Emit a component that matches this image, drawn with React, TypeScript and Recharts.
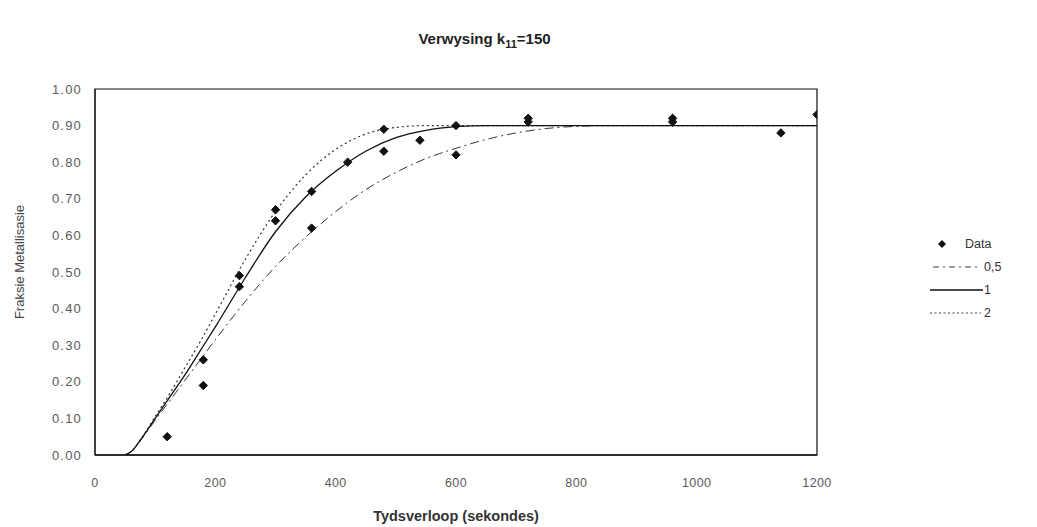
import React from "react";
import {
  ComposedChart,
  Line,
  Scatter,
  XAxis,
  YAxis,
  ReferenceArea,
} from "recharts";

// Measured data points (time in seconds, fraction metallised)
const dataT = [120, 180, 180, 240, 240, 300, 300, 360, 360, 420, 480, 480, 540, 600, 600, 720, 720, 960, 960, 1140, 1200];
const dataV = [0.05, 0.19, 0.26, 0.46, 0.49, 0.67, 0.64, 0.72, 0.62, 0.8, 0.89, 0.83, 0.86, 0.9, 0.82, 0.91, 0.92, 0.92, 0.91, 0.88, 0.93];

// Model curves
const curveT = [50, 62, 75, 100, 125, 150, 175, 200, 250, 300, 350, 400, 450, 500, 550, 600, 650, 700, 750, 800, 850, 900, 1200];
const curveHalf = [0, 0.012, 0.038, 0.095, 0.15, 0.205, 0.26, 0.315, 0.42, 0.515, 0.595, 0.665, 0.725, 0.772, 0.81, 0.838, 0.862, 0.88, 0.892, 0.898, 0.9, 0.9, 0.9];
const curveOne = [0, 0.012, 0.04, 0.1, 0.16, 0.22, 0.285, 0.35, 0.485, 0.61, 0.705, 0.775, 0.83, 0.867, 0.887, 0.897, 0.9, 0.9, 0.9, 0.9, 0.9, 0.9, 0.9];
const curveTwo = [0, 0.012, 0.04, 0.105, 0.17, 0.24, 0.31, 0.385, 0.535, 0.665, 0.765, 0.835, 0.877, 0.895, 0.9, 0.9, 0.9, 0.9, 0.9, 0.9, 0.9, 0.9, 0.9];

const xTicks = [0, 200, 400, 600, 800, 1000, 1200];
const yTicks = [0, 0.1, 0.2, 0.3, 0.4, 0.5, 0.6, 0.7, 0.8, 0.9, 1.0];

const titleText = "Verwysing k";
const titleSub = "11";
const titleRest = "=150";
const xLabel = "Tydsverloop (sekondes)";
const yLabel = "Fraksie Metallisasie";
const legendNames = ["Data", "0,5", "1", "2"];

const scatterData = dataT.map((t, i) => ({ t, v: dataV[i] }));
const mk = (vals: number[]) => curveT.map((t, i) => ({ t, v: vals[i] }));
const halfData = mk(curveHalf);
const oneData = mk(curveOne);
const twoData = mk(curveTwo);

const FONT = "'Liberation Sans', Arial, sans-serif";
const TICK_COLOR = "#5a5a5a";

const Diamond = (props: any) => {
  const { cx, cy } = props;
  if (cx == null || cy == null) return null;
  const r = 4.2;
  return (
    <path
      d={`M${cx},${cy - r} L${cx + r},${cy} L${cx},${cy + r} L${cx - r},${cy} Z`}
      fill="#111"
      stroke="#111"
    />
  );
};

const LegendBox = () => {
  const rowStyle: React.CSSProperties = {
    display: "flex",
    alignItems: "center",
    height: 23,
    fontFamily: FONT,
    fontSize: 12.5,
    color: "#333",
  };
  const kinds = ["data", "half", "one", "two"];
  return (
    <div style={{ position: "absolute", left: 925, top: 232 }}>
      {kinds.map((k, i) => (
        <div key={k} style={rowStyle}>
          {k === "data" ? (
            <svg width={32} height={12} style={{ display: "block" }}>
              <path d="M17,2 L21,6 L17,10 L13,6 Z" fill="#111" />
            </svg>
          ) : (
            <svg width={58} height={12} style={{ display: "block" }}>
              {k === "half" && (
                <line x1={8} y1={6} x2={56} y2={6} stroke="#444" strokeWidth={1} strokeDasharray="6 4 2 4" />
              )}
              {k === "one" && <line x1={5} y1={6} x2={58} y2={6} stroke="#111" strokeWidth={1.3} />}
              {k === "two" && (
                <line x1={5} y1={6} x2={56} y2={6} stroke="#444" strokeWidth={1.2} strokeDasharray="2 2.5" />
              )}
            </svg>
          )}
          <span style={{ marginLeft: k === "data" ? 8 : 1 }}>{legendNames[i]}</span>
        </div>
      ))}
    </div>
  );
};

export default function App() {
  return (
    <div style={{ position: "absolute", left: 0, top: 0, width: 1037, height: 527, background: "#fff" }}>
      <ComposedChart
        width={1037}
        height={527}
        margin={{ top: 89, right: 220, bottom: 42, left: 35 }}
      >
        <XAxis
          type="number"
          dataKey="t"
          domain={[0, 1200]}
          ticks={xTicks}
          tickLine={false}
          axisLine={{ stroke: "#111", strokeWidth: 1.5 }}
          tick={{ fill: TICK_COLOR, fontSize: 12.5, fontFamily: FONT, letterSpacing: 0.4 }}
          tickMargin={17}
          height={30}
          allowDataOverflow
        />
        <YAxis
          type="number"
          dataKey="v"
          domain={[0, 1]}
          ticks={yTicks}
          tickLine={false}
          axisLine={{ stroke: "#111", strokeWidth: 1 }}
          tick={{ fill: TICK_COLOR, fontSize: 13, fontFamily: FONT, letterSpacing: 1.2 }}
          tickFormatter={(v: number) => v.toFixed(2)}
          tickMargin={7}
          width={60}
          allowDataOverflow
        />
        <ReferenceArea x1={0} x2={1200} y1={0} y2={1} fill="none" stroke="#111" strokeWidth={1.2} />
        <Line
          data={halfData}
          dataKey="v"
          type="monotone"
          stroke="#333"
          strokeWidth={1}
          strokeDasharray="9 4 2 4"
          dot={false}
          isAnimationActive={false}
          name="0,5"
        />
        <Line
          data={twoData}
          dataKey="v"
          type="monotone"
          stroke="#333"
          strokeWidth={1.2}
          strokeDasharray="2 3"
          dot={false}
          isAnimationActive={false}
          name="2"
        />
        <Line
          data={oneData}
          dataKey="v"
          type="monotone"
          stroke="#111"
          strokeWidth={1.3}
          dot={false}
          isAnimationActive={false}
          name="1"
        />
        <Scatter
          data={scatterData}
          dataKey="v"
          shape={Diamond}
          isAnimationActive={false}
          name="Data"
        />
      </ComposedChart>
      <LegendBox />
      <div
        style={{
          position: "absolute",
          left: 0,
          width: 1037,
          top: 30,
          textAlign: "center",
          fontFamily: FONT,
          fontWeight: "bold",
          fontSize: 15,
          color: "#222",
        }}
      >
        <span style={{ position: "relative", left: -34 }}>
          {titleText}
          <sub style={{ fontSize: 11 }}>{titleSub}</sub>
          {titleRest}
        </span>
      </div>
      <div
        style={{
          position: "absolute",
          left: 95,
          width: 722,
          top: 508,
          textAlign: "center",
          fontFamily: FONT,
          fontWeight: "bold",
          fontSize: 14.5,
          color: "#333",
        }}
      >
        {xLabel}
      </div>
      <div
        style={{
          position: "absolute",
          left: 19,
          top: 262,
          transform: "translate(-50%, -50%) rotate(-90deg)",
          whiteSpace: "nowrap",
          fontFamily: FONT,
          fontSize: 13,
          color: "#444",
        }}
      >
        {yLabel}
      </div>
    </div>
  );
}
